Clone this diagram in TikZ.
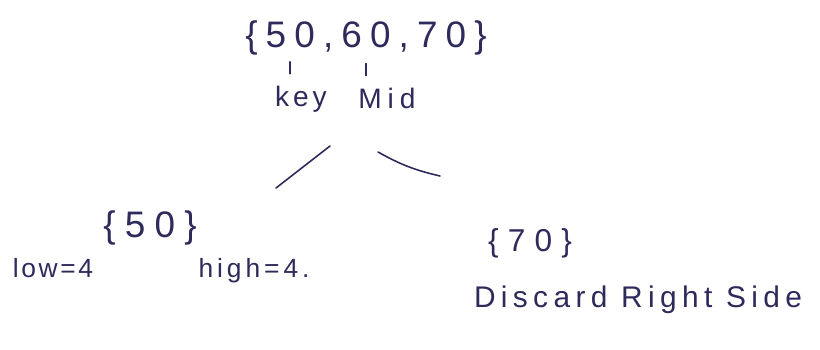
\documentclass[tikz,border=0pt]{standalone}
\usepackage{fontspec}
\setmainfont{Liberation Sans}
\usetikzlibrary{positioning}
\definecolor{Ink}{HTML}{2E2B5C}
\newcommand{\hand}[2]{\fontsize{#1}{#1}\selectfont\addfontfeatures{LetterSpace=#2}}

\begin{document}
\begin{tikzpicture}[
  x=0.02cm, y=-0.02cm,
  txt/.style={text=Ink, inner sep=1pt},
  pen/.style={draw=Ink, line width=0.9pt, line cap=round}
]
\useasboundingbox[fill=white] (0,0) rectangle (820,349);

\node[txt, font=\hand{21}{22}] (set) at (366,38) {\{50,60,70\}};
\node[txt, font=\hand{16}{14}] (key) at (301,99) {key};
\node[txt, font=\hand{16}{21}] (mid) at (387,98) {Mid};

\node[txt, font=\hand{21}{25}] (left) at (150,228) {\{50\}};
\node[txt, font=\hand{15}{10}] (low) at (53,268) {low=4};
\node[txt, font=\hand{15}{15}] (high) at (254,271) {high=4.};

\node[txt, font=\hand{18}{29}] (right) at (530,243) {\{70\}};
\node[txt, font=\hand{17}{18}] (discard) at (638,300) {Discard Right Side};

\coordinate (l1) at (330,146);
\coordinate (l2) at (276,188);
\coordinate (r1) at (378,152);
\coordinate (r2) at (440,176);

\draw[pen] ([xshift=-0.22cm,yshift=0.2cm]key.north) -- +(0,-12);
\draw[pen] ([xshift=-0.42cm,yshift=0.2cm]mid.north) -- +(0,-12);
\draw[pen] (l1) -- (l2);
\draw[pen] (r1) to[bend right=8] (r2);
\end{tikzpicture}
\end{document}
